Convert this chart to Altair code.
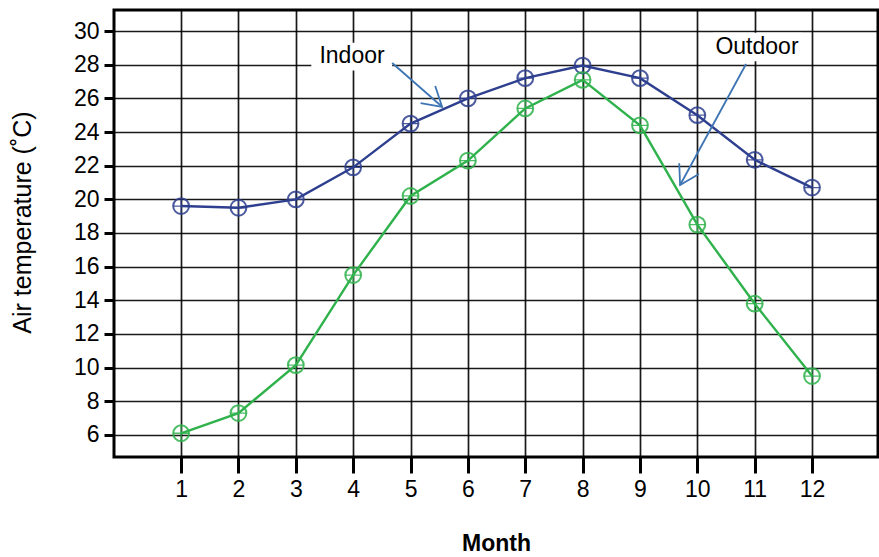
import altair as alt
import pandas as pd

# Monthly mean air temperatures (°C)
months = list(range(1, 13))
indoor = [19.6, 19.5, 20.0, 21.9, 24.5, 26.0, 27.2, 27.95, 27.2, 25.0, 22.35, 20.7]
outdoor = [6.1, 7.3, 10.15, 15.5, 20.2, 22.3, 25.4, 27.1, 24.4, 18.5, 13.8, 9.5]
series_names = ["Indoor", "Outdoor"]
series_colors = ["#2e3f8f", "#2fb24c"]
y_ticks = list(range(6, 31, 2))

# Callout labels with leader arrows (data coordinates)
label_text = ["Indoor", "Outdoor"]
label_x = [3.98, 11.04]
label_y = [28.5, 29.05]
box_x = [3.27, 10.27]
box_x2 = [4.68, 11.82]
box_y = [27.65, 28.2]
box_y2 = [29.3, 29.9]
arrow_x = [4.68, 10.85]
arrow_y = [28.1, 28.04]
arrow_x2 = [5.55, 9.70]
arrow_y2 = [25.5, 20.85]
arrow_angle = [40.7, 118.6]

df = pd.DataFrame({
    "Month": months * 2,
    "Temp": indoor + outdoor,
    "Series": [series_names[0]] * 12 + [series_names[1]] * 12,
})
ann = pd.DataFrame({
    "text": label_text, "lx": label_x, "ly": label_y,
    "bx": box_x, "bx2": box_x2, "by": box_y, "by2": box_y2,
    "ax": arrow_x, "ay": arrow_y, "ax2": arrow_x2, "ay2": arrow_y2,
    "angle": arrow_angle,
})

FONT = "Liberation Sans"
xscale = alt.Scale(domain=[-0.17, 13.15], nice=False, zero=False)
yscale = alt.Scale(domain=[4.69, 31.25], nice=False, zero=False)
color = alt.Color("Series:N", scale=alt.Scale(domain=series_names, range=series_colors), legend=None)

x_axis = alt.Axis(
    values=months, format="d", title="Month", grid=True, gridColor="#000",
    gridWidth=1.7, gridOpacity=0.9, domain=False, tickColor="#000",
    tickWidth=3, tickSize=16, labelOverlap=False,
    labelFont=FONT, labelFontSize=23, labelColor="#000", labelPadding=5,
    titleFont=FONT, titleFontSize=23, titleFontWeight="bold", titleColor="#000",
    titlePadding=31,
)
y_axis = alt.Axis(
    values=y_ticks, format="d", title="Air temperature (˚C)",
    grid=True, gridColor="#000", gridWidth=1.7, gridOpacity=0.9, domain=False,
    tickColor="#000", tickWidth=3, tickSize=10, labelOverlap=False,
    labelFont=FONT, labelFontSize=23, labelColor="#000", labelPadding=5,
    titleFont=FONT, titleFontSize=25, titleFontWeight="normal",
    titleColor="#000", titlePadding=38, titleY=212,
)

X = alt.X("Month:Q", scale=xscale, axis=x_axis)
Y = alt.Y("Temp:Q", scale=yscale, axis=y_axis)

base = alt.Chart(df)
lines = base.mark_line(strokeWidth=2.4).encode(x=X, y=Y, color=color)
rings = base.mark_point(shape="circle", filled=False, size=250, strokeWidth=2, opacity=0.85).encode(
    x=X, y=Y, color=color,
)
crosses = base.mark_point(shape="M-1,0H1M0,-1V1", filled=False, size=250, strokeWidth=1.3, opacity=0.85).encode(
    x=X, y=Y, color=color,
)

abase = alt.Chart(ann)
boxes = abase.mark_rect(color="white").encode(
    x=alt.X("bx:Q", axis=x_axis), x2="bx2", y=alt.Y("by:Q", axis=y_axis), y2="by2",
)
shafts = abase.mark_rule(color="#3d74b3", strokeWidth=1.8).encode(
    x=alt.X("ax:Q", axis=x_axis), x2="ax2", y=alt.Y("ay:Q", axis=y_axis), y2="ay2",
)
heads = abase.mark_point(
    shape="M-1,-0.6L0,0L-1,0.6", filled=False, size=1400, color="#3d74b3",
    strokeWidth=1.8, opacity=1,
).encode(
    x=alt.X("ax2:Q", axis=x_axis), y=alt.Y("ay2:Q", axis=y_axis),
    angle=alt.Angle("angle:Q", scale=None),
)
labels = abase.mark_text(font=FONT, fontSize=23, color="#000").encode(
    x=alt.X("lx:Q", axis=x_axis), y=alt.Y("ly:Q", axis=y_axis), text="text:N",
)

chart = alt.layer(lines, rings, crosses, boxes, shafts, heads, labels).properties(
    width=764, height=447,
    autosize=alt.AutoSizeParams(type="none"),
    padding={"left": 114, "top": 10, "right": 1, "bottom": 100},
    background="white",
).configure_view(stroke="#000", strokeWidth=3).configure_axis(labelOverlap=False)

chart.save("out.html", embed_options={"renderer": "svg", "actions": False})
